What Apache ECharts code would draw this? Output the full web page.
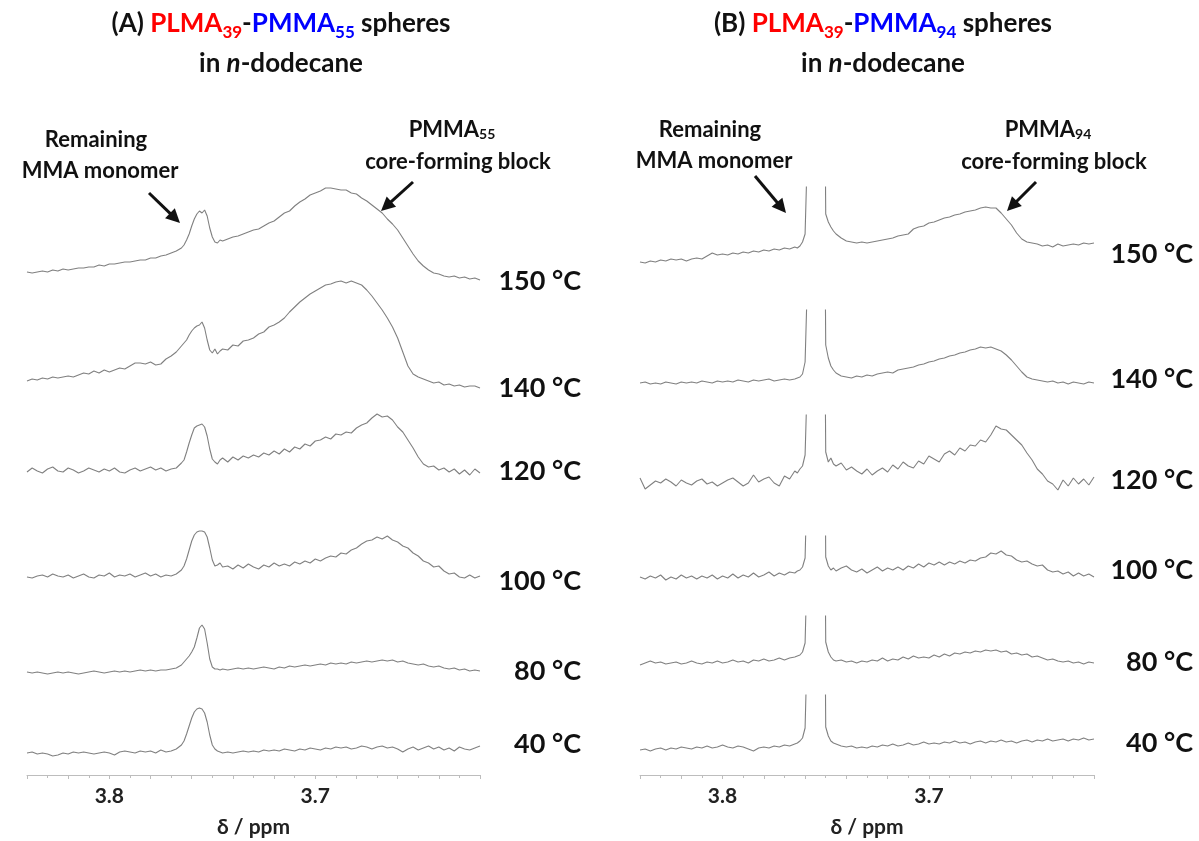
<!DOCTYPE html>
<html>
<head>
<meta charset="utf-8">
<script src="https://cdn.jsdelivr.net/npm/echarts@6/dist/echarts.min.js"></script>
<style>
html, body { margin: 0; padding: 0; background: #fff; }
#chart { width: 1199px; height: 841px; }
</style>
</head>
<body>
<div id="chart"></div>
<script>
// chemical shift (ppm) of every point, shared by all traces
var ppm = [3.84, 3.8375, 3.835, 3.8325, 3.83, 3.8275, 3.825, 3.8225, 3.82, 3.8175, 3.815, 3.8125, 3.81, 3.8075, 3.805, 3.8025, 3.8, 3.7975, 3.795, 3.7925, 3.79, 3.7875, 3.785, 3.7825, 3.78, 3.7775, 3.775, 3.7725, 3.77, 3.7675, 3.765,
  3.76375, 3.7625, 3.76125, 3.76, 3.75875, 3.7575, 3.75625, 3.755, 3.75375, 3.7525, 3.75125, 3.75, 3.74875, 3.7475, 3.74625, 3.745,
  3.7425, 3.74, 3.7375, 3.735, 3.7325, 3.73, 3.7275, 3.725, 3.7225, 3.72, 3.7175, 3.715, 3.7125, 3.71, 3.7075, 3.705, 3.7025, 3.7, 3.6975, 3.695,
  3.6925, 3.69, 3.6875, 3.685, 3.6825, 3.68, 3.6775, 3.675, 3.6725, 3.67, 3.6675, 3.665, 3.6625, 3.66, 3.6575, 3.655, 3.6525, 3.65, 3.6475, 3.645,
  3.6425, 3.64, 3.6375, 3.635, 3.6325, 3.63, 3.6275, 3.625, 3.6225, 3.62]

var temps = ['150 °C', '140 °C', '120 °C', '100 °C', '80 °C', '40 °C']
var ppmMin = 3.62
var ppmMax = 3.84

// (A) PLMA39-PMMA55, intensity (a.u.) top trace to bottom trace
var a150 = [13, 12, 13, 14, 13, 15, 14, 16, 15, 16, 17, 17, 18, 18, 20, 19, 21, 21, 22, 23, 23, 24, 25, 25, 27, 27, 29, 30, 32, 34,
  37, 40, 45, 51, 59, 66, 71, 74, 72, 75, 69, 57, 48, 43, 42, 45, 44, 46, 48, 49, 51, 53, 55, 56, 59, 62, 64, 68, 72, 74,
  79, 83, 86, 90, 92, 94, 97, 97, 96, 95, 95, 92, 91, 87, 84, 80, 76, 72, 66, 61, 55, 47, 39, 31, 24, 19, 15, 12, 11, 9, 8, 9, 7, 8, 6, 7, 5]
var a140 = [11, 13, 12, 14, 13, 15, 14, 15, 16, 15, 17, 19, 18, 21, 19, 22, 20, 22, 24, 23, 26, 29, 29, 28, 30, 27, 28, 33, 36, 40,
  46, 49, 52, 57, 61, 64, 66, 67, 70, 64, 52, 42, 39, 43, 38, 41, 43, 42, 47, 46, 51, 52, 54, 58, 60, 65, 67, 70, 74, 80,
  85, 90, 94, 98, 101, 104, 107, 108, 110, 111, 109, 111, 109, 107, 102, 96, 89, 82, 74, 65, 54, 40, 26, 18, 15, 13, 11, 9, 10, 7, 8, 6, 7, 5, 6, 6, 4]
var a120 = [8, 12, 9, 7, 11, 13, 9, 8, 12, 10, 7, 9, 12, 10, 8, 11, 9, 12, 8, 7, 10, 12, 9, 11, 13, 10, 12, 9, 11, 12,
  17, 20, 28, 37, 45, 52, 54, 55, 56, 53, 44, 31, 21, 18, 16, 20, 22, 18, 23, 20, 24, 22, 25, 23, 27, 25, 29, 26, 31, 28,
  33, 31, 36, 34, 39, 40, 43, 41, 46, 45, 48, 47, 52, 55, 57, 62, 66, 63, 64, 60, 53, 48, 40, 32, 23, 16, 13, 14, 10, 12, 8, 11, 6, 10, 5, 11, 7]
var a100 = [8, 7, 9, 10, 8, 11, 9, 8, 10, 7, 9, 11, 8, 7, 10, 9, 12, 8, 10, 9, 11, 8, 10, 12, 9, 11, 8, 10, 9, 11,
  15, 19, 26, 35, 44, 50, 53, 54, 54, 53, 48, 37, 25, 19, 20, 22, 18, 19, 16, 20, 17, 21, 18, 16, 20, 18, 22, 19, 21, 19,
  23, 21, 24, 22, 26, 24, 27, 29, 28, 32, 31, 35, 37, 41, 44, 45, 48, 46, 49, 45, 43, 39, 37, 32, 29, 24, 22, 18, 19, 14, 11, 12, 8, 7, 10, 7, 9]
var a80 = [5, 4, 5, 4, 3, 4, 5, 4, 5, 4, 3, 4, 5, 6, 5, 4, 5, 6, 5, 6, 5, 6, 7, 6, 7, 6, 7, 7, 8, 9,
  12, 15, 18, 21, 25, 30, 39, 49, 52, 48, 34, 18, 10, 8, 8, 7, 8, 7, 8, 9, 8, 9, 8, 9, 10, 9, 8, 10, 9, 11,
  10, 11, 12, 11, 12, 13, 12, 14, 13, 14, 13, 15, 14, 15, 16, 15, 16, 17, 16, 17, 15, 16, 14, 13, 12, 13, 11, 10, 11, 9, 8, 9, 7, 8, 6, 7, 6]
var a40 = [7, 8, 6, 7, 6, 4, 5, 7, 6, 8, 7, 8, 7, 6, 7, 8, 7, 5, 8, 9, 8, 7, 9, 8, 9, 7, 10, 8, 9, 11,
  15, 19, 26, 34, 42, 48, 51, 52, 51, 47, 38, 25, 15, 11, 9, 8, 7, 8, 7, 8, 9, 8, 9, 8, 10, 9, 10, 9, 11, 10,
  9, 11, 10, 12, 11, 10, 12, 11, 13, 12, 13, 11, 12, 14, 13, 11, 13, 14, 12, 13, 11, 8, 11, 13, 10, 12, 14, 11, 13, 10, 12, 9, 13, 11, 10, 12, 14]

// (B) PLMA39-PMMA94, monomer peak runs far off scale
var b150 = [8, 7, 9, 8, 10, 9, 11, 10, 11, 9, 11, 12, 11, 14, 17, 15, 16, 15, 17, 16, 18, 17, 19, 18, 20, 19, 21, 20, 22, 21,
  23, 22, 24, 28, 36, 130, 1000, 2400, 2800, 2400, 1000, 400, 56, 48, 43, 39, 36, 32, 29, 28, 27, 28, 27, 28, 29, 30, 31, 32, 34, 35,
  36, 41, 43, 44, 47, 48, 50, 52, 53, 55, 56, 58, 59, 60, 62, 63, 62, 62, 57, 51, 45, 37, 31, 28, 27, 26, 24, 25, 23, 26, 24, 25, 26, 25, 27, 26, 27]
var b140 = [7, 8, 6, 7, 6, 8, 7, 6, 8, 7, 8, 7, 9, 8, 7, 9, 8, 9, 8, 10, 9, 8, 10, 9, 10, 11, 9, 10, 11, 10,
  11, 12, 13, 16, 28, 120, 1000, 2400, 2800, 2400, 1000, 400, 45, 32, 24, 20, 17, 14, 13, 12, 14, 13, 15, 14, 16, 17, 18, 17, 20, 21,
  22, 23, 25, 26, 28, 29, 31, 32, 34, 35, 37, 38, 40, 41, 43, 42, 43, 41, 39, 35, 30, 24, 18, 13, 11, 10, 9, 8, 9, 7, 8, 6, 8, 7, 6, 8, 7]
var b120 = [17, 6, 10, 14, 12, 16, 13, 9, 15, 12, 10, 14, 16, 11, 13, 9, 12, 15, 17, 13, 9, 12, 20, 13, 16, 18, 12, 9, 19, 16,
  24, 22, 26, 29, 40, 130, 1000, 2400, 2800, 2400, 1000, 400, 43, 33, 37, 31, 29, 32, 25, 28, 24, 21, 26, 20, 24, 27, 23, 30, 26, 33,
  29, 27, 34, 31, 39, 36, 33, 41, 44, 40, 47, 44, 50, 49, 55, 53, 60, 69, 66, 65, 60, 55, 50, 42, 35, 26, 21, 14, 11, 5, 15, 9, 17, 11, 16, 10, 18]
var b100 = [8, 6, 9, 7, 10, 5, 8, 6, 10, 7, 9, 6, 9, 7, 10, 6, 9, 7, 11, 7, 10, 8, 12, 8, 10, 13, 9, 12, 10, 13,
  12, 14, 15, 18, 27, 130, 1000, 2400, 2800, 2400, 1000, 400, 28, 19, 15, 17, 14, 17, 19, 15, 13, 16, 12, 15, 18, 14, 17, 15, 18, 15,
  19, 17, 21, 18, 22, 20, 23, 20, 23, 21, 24, 22, 25, 24, 27, 28, 32, 31, 34, 30, 29, 25, 23, 24, 21, 19, 20, 15, 13, 14, 11, 13, 9, 12, 9, 11, 8]
var b80 = [7, 9, 11, 9, 10, 8, 9, 10, 8, 9, 11, 9, 8, 10, 9, 11, 9, 10, 12, 10, 11, 9, 12, 11, 13, 11, 12, 14, 12, 14,
  15, 16, 17, 20, 29, 130, 1000, 2400, 2800, 2400, 1000, 400, 30, 20, 15, 12, 11, 12, 10, 11, 9, 11, 10, 12, 11, 14, 11, 13, 12, 15,
  13, 16, 14, 15, 14, 17, 15, 18, 16, 19, 18, 20, 19, 21, 20, 22, 21, 22, 20, 21, 18, 19, 17, 18, 15, 16, 14, 12, 13, 11, 10, 11, 9, 10, 8, 10, 9]
var b40 = [7, 8, 6, 8, 9, 7, 9, 8, 10, 9, 8, 10, 9, 11, 9, 10, 12, 10, 9, 11, 10, 8, 6, 9, 10, 9, 11, 10, 12, 11,
  13, 14, 16, 19, 29, 130, 1000, 2400, 2800, 2400, 1000, 400, 30, 21, 16, 14, 13, 11, 10, 11, 9, 10, 9, 11, 10, 12, 11, 13, 11, 12,
  14, 12, 13, 15, 13, 14, 13, 15, 14, 16, 14, 15, 13, 15, 16, 14, 16, 15, 17, 15, 16, 14, 16, 17, 15, 17, 16, 18, 16, 17, 18, 16, 18, 17, 19, 17, 18]

var font = 'Lato, "Open Sans", sans-serif'
var traceColor = '#808080'
var axisColor = '#bdbdbd'

var panels = [
  {
    left: 27, width: 453,
    traces: [a150, a140, a120, a100, a80, a40],
    // top / bottom pixel of each trace's strip
    slots: [[150, 285], [250, 392], [380, 480], [500, 585], [600, 677], [690, 760]],
    labelX: 581, labelY: [281, 388, 471, 581, 671, 744],
    title: '(A) {r|PLMA}{rs|39}-{b|PMMA}{bs|55} spheres', titleX: 281,
    block: 'PMMA{s|55}', monoX: 96, blockX: 458, monoY: 140, blockY: 130,
    arrows: [[149, 193, 180, 223], [413, 182, 381, 211]]
  },
  {
    left: 640, width: 454,
    traces: [b150, b140, b120, b100, b80, b40],
    slots: [[187, 270], [310, 390], [415, 495], [536, 585], [616, 672], [695, 757]],
    labelX: 1193, labelY: [254, 379, 480, 570, 662, 743],
    title: '(B) {r|PLMA}{rs|39}-{b|PMMA}{bs|94} spheres', titleX: 883,
    block: 'PMMA{s|94}', monoX: 710, blockX: 1054, monoY: 130, blockY: 130,
    arrows: [[755, 176, 786, 213], [1036, 182, 1007, 211]]
  }
]

function arrow(x1, y1, x2, y2) {
  var dx = x2 - x1
  var dy = y2 - y1
  var len = Math.sqrt(dx * dx + dy * dy)
  var ux = dx / len
  var uy = dy / len
  var L = 14
  var W = 7
  var bx = x2 - ux * L
  var by = y2 - uy * L
  return [
    { type: 'line', shape: { x1: x1, y1: y1, x2: bx + ux * 2, y2: by + uy * 2 }, style: { stroke: '#111', lineWidth: 3 } },
    { type: 'polygon', shape: { points: [[x2, y2], [bx - uy * W, by + ux * W], [bx + uy * W, by - ux * W]] }, style: { fill: '#111' } }
  ]
}

function txt(x, y, text, size, align, rich) {
  return {
    type: 'text', x: x, y: y,
    style: {
      text: text, fill: '#111', fontFamily: font, fontWeight: 'bold', fontSize: size,
      align: align || 'center', verticalAlign: 'middle', rich: rich
    }
  }
}

var grid = []
var xAxis = []
var yAxis = []
var series = []
var graphic = []

panels.forEach(function(p) {
  p.traces.forEach(function(t, i) {
    var top = p.slots[i][0]
    var h = p.slots[i][1] - top
    var gi = grid.length
    grid.push({ left: p.left, top: top, width: p.width, height: h })
    xAxis.push({ type: 'value', gridIndex: gi, min: ppmMin, max: ppmMax, inverse: true, show: false })
    yAxis.push({ type: 'value', gridIndex: gi, min: 0, max: h, show: false })
    series.push({
      type: 'line', xAxisIndex: gi, yAxisIndex: gi,
      data: ppm.map(function(v, k) { return [v, t[k]] }),
      showSymbol: false, clip: true, silent: true,
      lineStyle: { color: traceColor, width: 1.1 }
    })
    graphic.push(txt(p.labelX, p.labelY[i], temps[i], 27, 'right'))
  })

  // ppm scale under the stack
  var gi = grid.length
  grid.push({ left: p.left, top: 770, width: p.width, height: 5 })
  xAxis.push({
    type: 'value', gridIndex: gi, min: ppmMin, max: ppmMax, interval: 0.02, inverse: true,
    axisLine: { lineStyle: { color: axisColor, width: 1 } },
    axisTick: { length: 4, lineStyle: { color: axisColor } },
    minorTick: { show: true, splitNumber: 2, length: 3, lineStyle: { color: axisColor } },
    splitLine: { show: false },
    axisLabel: {
      margin: 11, fontFamily: font, fontSize: 21, fontWeight: 'bold', color: '#222',
      formatter: function(v) {
        var r = Math.round(v * 10) / 10
        return Math.abs(v - r) < 1e-6 ? r.toFixed(1) : ''
      }
    },
    name: 'δ / ppm', nameLocation: 'middle', nameGap: 42,
    nameTextStyle: { fontFamily: font, fontSize: 21, fontWeight: 'bold', color: '#222' }
  })
  yAxis.push({ type: 'value', gridIndex: gi, min: 0, max: 1, show: false })

  // titles
  graphic.push(txt(p.titleX, 24, p.title, 26, 'center', {
    r: { fill: '#ff0000', fontSize: 26, fontWeight: 'bold', fontFamily: font, lineHeight: 34 },
    rs: { fill: '#ff0000', fontSize: 17, fontWeight: 'bold', fontFamily: font, verticalAlign: 'bottom', lineHeight: 17 },
    b: { fill: '#0000ff', fontSize: 26, fontWeight: 'bold', fontFamily: font, lineHeight: 34 },
    bs: { fill: '#0000ff', fontSize: 17, fontWeight: 'bold', fontFamily: font, verticalAlign: 'bottom', lineHeight: 17 }
  }))
  graphic.push(txt(p.titleX, 64, 'in {i|n}-dodecane', 26, 'center', {
    i: { fontStyle: 'italic', fontSize: 26, fontWeight: 'bold', fontFamily: font, fill: '#111' }
  }))

  // annotations
  graphic.push(txt(p.monoX, p.monoY, 'Remaining', 22))
  graphic.push(txt(p.monoX + 4, p.monoY + 31, 'MMA monomer', 22))
  graphic.push(txt(p.blockX - 6, p.blockY, p.block, 22, 'center', {
    s: { fontSize: 14, fontWeight: 'bold', fontFamily: font, fill: '#111', verticalAlign: 'bottom', lineHeight: 14 }
  }))
  graphic.push(txt(p.blockX, p.blockY + 32, 'core-forming block', 22))
  p.arrows.forEach(function(a) {
    graphic = graphic.concat(arrow(a[0], a[1], a[2], a[3]))
  })
})

var chart = echarts.init(document.getElementById('chart'))
chart.setOption({
  animation: false,
  backgroundColor: '#fff',
  grid: grid,
  xAxis: xAxis,
  yAxis: yAxis,
  series: series,
  graphic: graphic
})
</script>
</body>
</html>
